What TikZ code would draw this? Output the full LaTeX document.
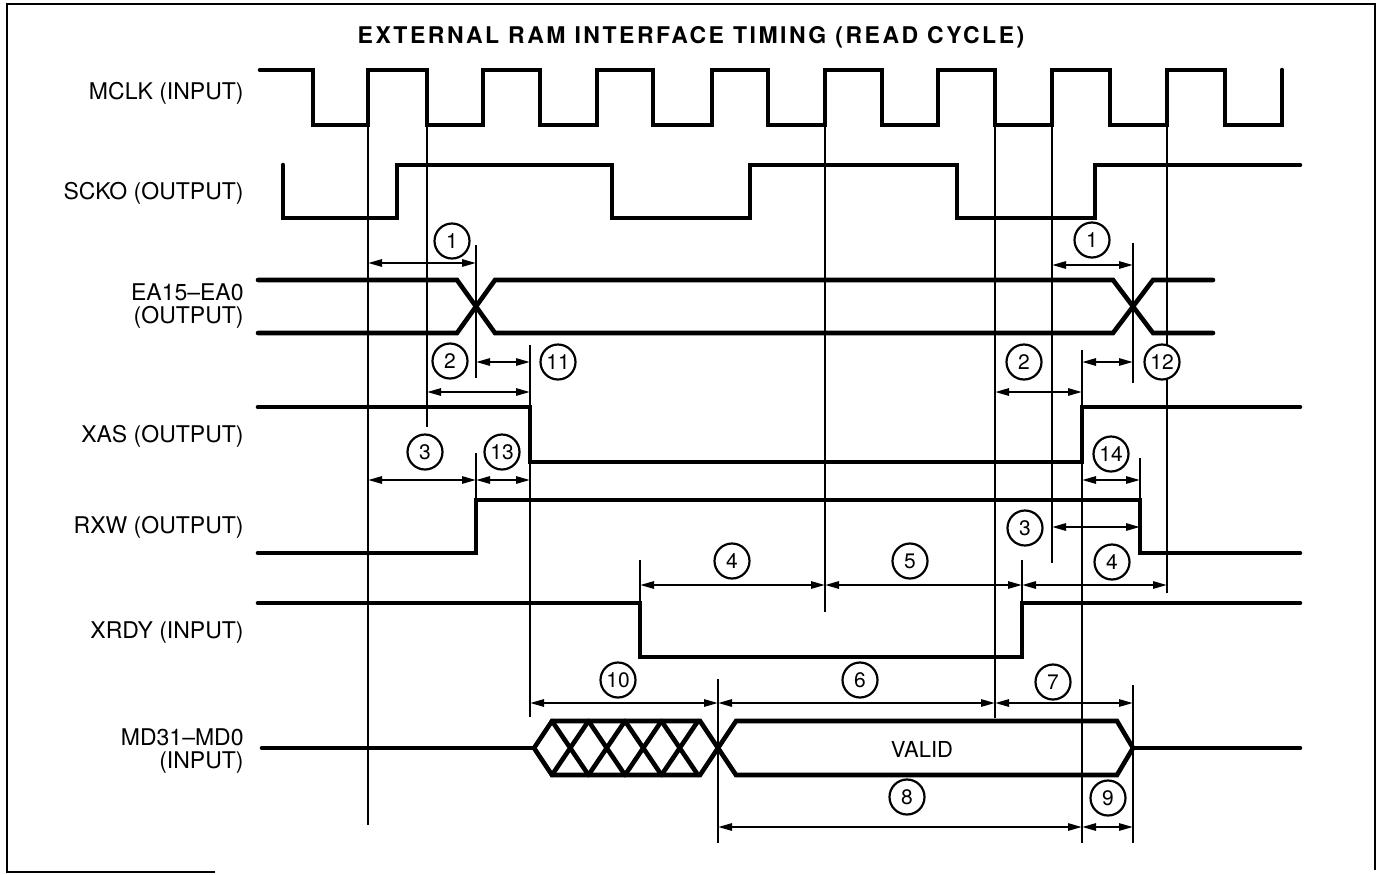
\documentclass[tikz,border=0pt]{standalone}
\usepackage{fontspec}
\setmainfont{TeX Gyre Heros}
\newfontfamily\titlefont[LetterSpace=11]{TeX Gyre Heros}
\usetikzlibrary{arrows.meta}

\begin{document}
\begin{tikzpicture}[x=0.5pt,y=-0.5pt,
  >={Triangle[length=7pt,width=3.6pt]},
  sig/.style={line width=2.3pt,line cap=round},
  guide/.style={line width=1.3pt},
  dim/.style={line width=1.1pt,<->},
  num/.style={circle,draw,line width=1.1pt,fill=white,minimum size=17.5pt,
    inner sep=0pt,font=\fontsize{10.5}{11}\selectfont},
  lbl/.style={anchor=base east,inner sep=0pt,font=\fontsize{11.5}{12}\selectfont}]
  \useasboundingbox (0,0) rectangle (1382,874);
  \draw[line width=1.3pt] (215,872) -- (7,872) -- (7,4) -- (1375,4) -- (1375,870);
  \node[anchor=base,inner sep=0pt,font={\titlefont\bfseries\fontsize{11.5}{12}\selectfont}]
    (title) at (691,43) {EXTERNAL RAM INTERFACE TIMING (READ CYCLE)};

  \node[lbl] (mclk) at (244,99) {MCLK (INPUT)};
  \node[lbl] (scko) at (244,199) {SCKO (OUTPUT)};
  \node[lbl] (ea) at (244,300) {EA15--EA0};
  \node[lbl] (eadir) at (244,323) {(OUTPUT)};
  \node[lbl] (xas) at (244,442) {XAS (OUTPUT)};
  \node[lbl] (rxw) at (244,533) {RXW (OUTPUT)};
  \node[lbl] (xrdy) at (244,638) {XRDY (INPUT)};
  \node[lbl] (md) at (244,745) {MD31--MD0};
  \node[lbl] (mddir) at (244,768) {(INPUT)};

  \draw[guide] (368,70)--(368,825) (427,70)--(427,427);
  \draw[guide] (825,125)--(825,612) (995,125)--(995,718);
  \draw[guide] (1052,125)--(1052,563) (1167,125)--(1167,593);
  \draw[guide] (476,245)--(476,378) (476,453)--(476,553);
  \draw[guide] (530,345)--(530,717) (640,560)--(640,657) (1022,560)--(1022,657);
  \draw[guide] (1082,350)--(1082,843) (1133,243)--(1133,383) (1140,458)--(1140,555);
  \draw[guide] (718,679)--(718,843) (1133,685)--(1133,843);

  \draw[sig] (260,70) -| (313,125) -| (368,70) -| (427,125) -| (483,70) -| (540,125)
    -| (597,70) -| (653,125) -| (712,70) -| (768,125) -| (825,70) -| (882,125)
    -| (938,70) -| (995,125) -| (1052,70) -| (1110,125) -| (1167,70) -| (1225,125)
    -| (1282,70);
  \draw[sig] (283,165) |- (397,218) |- (612,165) |- (750,218) |- (957,165)
    |- (1095,218) |- (1300,165);
  \draw[sig] (258,280) -- (457,280) -- (495,333) -- (1113,333) -- (1153,280) -- (1213,280);
  \draw[sig] (258,333) -- (457,333) -- (495,280) -- (1113,280) -- (1153,333) -- (1213,333);
  \draw[sig] (258,407) -| (530,462) -| (1082,407) -- (1300,407);
  \draw[sig] (258,553) -| (476,500) -| (1140,553) -- (1300,553);
  \draw[sig] (258,603) -| (640,657) -| (1022,603) -- (1300,603);
  \draw[sig] (262,748) -- (534,748);
  \draw[sig] (534,748) -- (552,721) -- (700,721) -- (718,748)
    -- (700,775) -- (552,775) -- cycle;
  \foreach \a in {552,588.5,625,661.5}
    \draw[sig] (\a,721) -- (\a+36.5,775) (\a,775) -- (\a+36.5,721);
  \draw[sig] (718,748) -- (736,721) -- (1117,721) -- (1133,748) -- (1117,775)
    -- (736,775) -- cycle;
  \draw[sig] (1133,748) -- (1300,748);
  \node[font=\fontsize{11}{12}\selectfont] (valid) at (922,749) {VALID};

  \draw[dim] (368,263) -- (476,263);
  \draw[dim] (427,392) -- (530,392);
  \draw[dim] (476,362) -- (530,362);
  \draw[dim] (368,480) -- (476,480);
  \draw[dim] (476,480) -- (530,480);
  \draw[dim] (640,585) -- (825,585);
  \draw[dim] (825,585) -- (1022,585);
  \draw[dim] (1052,265) -- (1133,265);
  \draw[dim] (995,392) -- (1082,392);
  \draw[dim] (1082,362) -- (1133,362);
  \draw[dim] (1082,480) -- (1140,480);
  \draw[dim] (1052,527) -- (1140,527);
  \draw[dim] (1022,585) -- (1167,585);
  \draw[dim] (530,703) -- (718,703);
  \draw[dim] (718,703) -- (995,703);
  \draw[dim] (995,703) -- (1133,703);
  \draw[dim] (718,827) -- (1082,827);
  \draw[dim] (1082,827) -- (1133,827);

  \node[num] (t1a) at (452,241) {1};
  \node[num] (t2a) at (450,361) {2};
  \node[num] (t11) at (558,362) {11};
  \node[num] (t3a) at (425,452) {3};
  \node[num] (t13) at (502,452) {13};
  \node[num] (t4a) at (732,561) {4};
  \node[num] (t5) at (910,561) {5};
  \node[num] (t1b) at (1092,240) {1};
  \node[num] (t2b) at (1024,362) {2};
  \node[num] (t12) at (1162,362) {12};
  \node[num] (t14) at (1111,454) {14};
  \node[num] (t3b) at (1025,528) {3};
  \node[num] (t4b) at (1112,562) {4};
  \node[num] (t10) at (618,680) {10};
  \node[num] (t6) at (860,680) {6};
  \node[num] (t7) at (1053,682) {7};
  \node[num] (t8) at (907,797) {8};
  \node[num] (t9) at (1108,798) {9};
\end{tikzpicture}
\end{document}
